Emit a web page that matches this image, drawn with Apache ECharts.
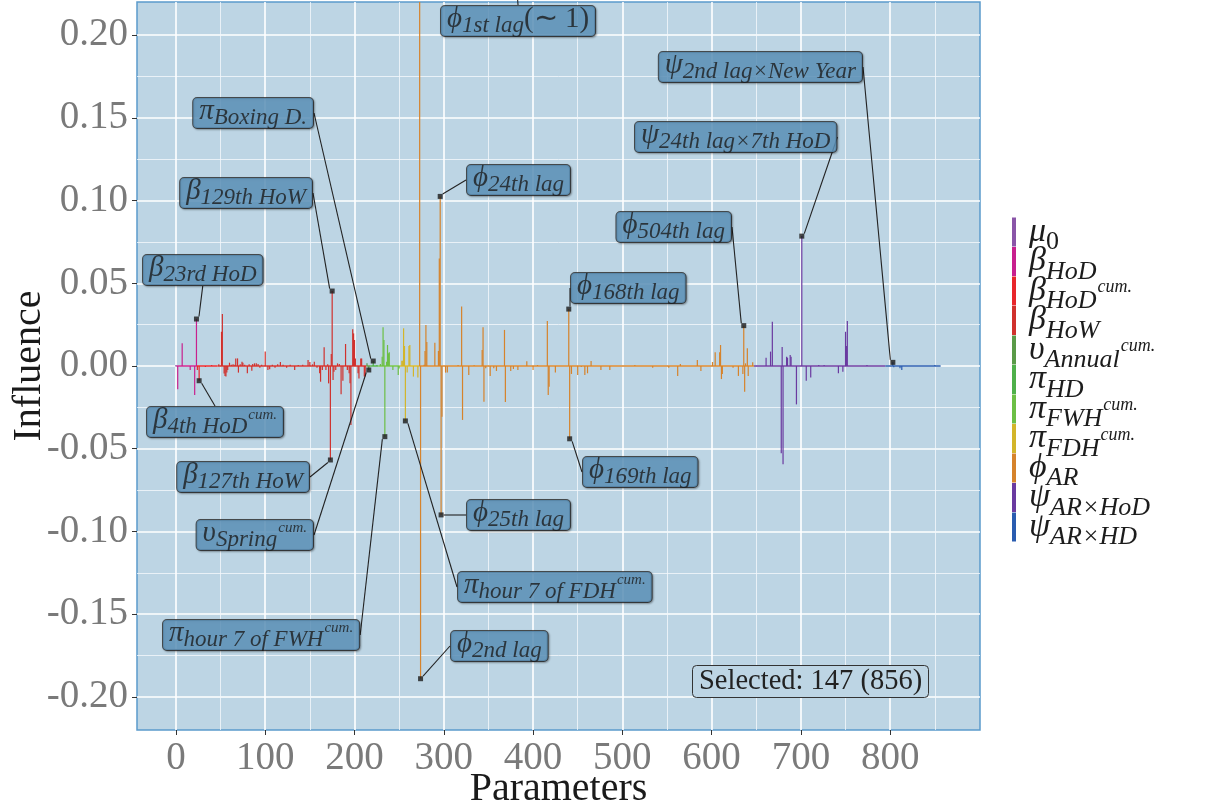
<!DOCTYPE html>
<html><head><meta charset="utf-8">
<script src="https://cdn.jsdelivr.net/npm/echarts@6/dist/echarts.min.js"></script>
<style>html,body{margin:0;padding:0;background:#fff}#c{width:1222px;height:810px}</style>
</head><body><div id="c"></div><script>
// ---------- data ----------
const xTicks = [0,100,200,300,400,500,600,700,800];
const yTicks = [-0.20,-0.15,-0.10,-0.05,0,0.05,0.10,0.15,0.20];
const groupNames = ['mu0','bHoD','bHoDcum','bHoW','uAnn','piHD','piFWH','piFDH','phiAR','psiHoD','psiHD'];
const groupRanges = [[0,0],[1,23],[24,46],[47,213],[214,217],[218,226],[227,250],[251,272],[273,647],[648,794],[795,856]];

const mu0 = [[0,0.0004]];
const bHoD = [[2,-0.0140],[7,0.0137],[16,-0.0024],[21,-0.0176],[23,0.0284]];
const bHoDcum = [[24,-0.0024],[26,-0.0089],[33,-0.0006],[40,0.0006]];
const bHoW = [[48,0.0010],[51,0.0207],[52,0.0314],[54,-0.0045],[55,-0.0060],[56,-0.0064],[57,-0.0040],[58,-0.0024],
  [60,0.0020],[62,0.0008],[64,0.0010],[66,0.0008],[67,0.0046],[69,0.0046],[70,-0.0040],[72,0.0010],[74,0.0026],
  [75,0.0020],[77,0.0008],[80,-0.0044],[82,0.0010],[85,-0.0028],[86,0.0012],[88,0.0016],[90,0.0016],[92,0.0012],
  [94,-0.0010],[96,0.0008],[100,0.0087],[103,-0.0024],[105,-0.0020],[108,0.0008],[111,-0.0010],[114,0.0010],
  [117,0.0024],[120,0.0008],[124,-0.0010],[128,0.0008],[133,-0.0024],[137,0.0006],[142,0.0008],[148,0.0036],
  [150,0.0024],[153,0.0010],[155,0.0026],[158,-0.0010],[161,-0.0044],[162,-0.0095],[164,-0.0024],[166,0.0113],
  [168,-0.0024],[170,0.0010],[171,-0.0105],[173,-0.0568],[174,0.0073],[175,0.0453],[176,-0.0085],[177,-0.0034],
  [179,-0.0024],[181,0.0016],[183,0.0012],[185,-0.0171],[187,-0.0089],[190,0.0133],[192,-0.0024],[194,-0.0044],
  [195,-0.0105],[196,-0.0356],[198,0.0222],[199,0.0197],[200,0.0157],[201,0.0046],[204,-0.0044],[205,-0.0075],
  [207,0.0046],[208,0.0046],[211,-0.0064],[212,-0.0064]];
const uAnn = [[214,0.0016],[216,-0.0024]];
const piHD = [[221,0.0030],[225,0.0005]];
const piFWH = [[229,0.0012],[231,0.0056],[232,0.0234],[233,0.0157],[234,-0.0427],[236,0.0026],[237,0.0127],
  [238,0.0077],[239,0.0083],[243,-0.0024],[249,-0.0054],[250,-0.0015]];
const piFDH = [[253,0.0032],[254,0.0032],[255,0.0228],[256,0.0121],[257,-0.0332],[259,-0.0040],[261,0.0121],
  [262,0.0127],[266,-0.0064],[271,-0.0070]];
const phiAR = [[273,1.0],[274,-0.1890],[278,0.0008],[279,0.0091],[280,0.0248],[281,0.0145],[290,0.0141],[294,0.0091],
  [295,0.0650],[296,0.1025],[297,-0.0900],[298,-0.0306],[302,-0.0040],[304,-0.0040],[316,0.0006],[320,0.0359],
  [321,-0.0326],[328,-0.0054],[334,0.0004],[343,0.0097],[344,0.0234],[345,-0.0216],[347,-0.0014],[352,-0.0060],
  [356,-0.0014],[359,-0.0030],[368,0.0218],[369,-0.0218],[375,-0.0030],[378,-0.0018],[383,-0.0024],[393,0.0028],
  [400,-0.0024],[405,0.0006],[416,0.0272],[417,-0.0175],[418,-0.0125],[425,-0.0040],[440,0.0344],[441,-0.0440],
  [443,-0.0048],[450,-0.0054],[454,-0.0006],[458,-0.0054],[461,-0.0044],[465,0.0030],[476,-0.0024],[486,-0.0024],
  [514,0.0006],[534,-0.0010],[552,-0.0010],[562,-0.0060],[565,0.0012],[584,0.0036],[588,-0.0030],[601,0.0024],
  [604,0.0083],[609,0.0083],[610,0.0127],[611,-0.0079],[612,-0.0048],[624,-0.0010],[630,-0.0060],[635,-0.0048],
  [636,0.0244],[637,-0.0155],[638,0.0016],[640,0.0107],[641,-0.0060],[646,0.0022]];
const psiHoD = [[661,0.0050],[666,0.0087],[668,0.0268],[678,-0.0528],[679,0.0115],[680,-0.0594],[684,0.0056],
  [685,0.0050],[688,0.0066],[689,0.0056],[695,-0.0232],[701,0.0785],[706,-0.0089],[711,-0.0070],[720,0.0006],
  [726,0.0006],[742,-0.0044],[747,-0.0034],[750,0.0207],[751,0.0121],[752,0.0272],[774,0.0006]];
const psiHD = [[803,0.0022],[804,-0.0008],[811,-0.0014],[813,-0.0024],[850,0.0006]];

const groupData = {mu0,bHoD,bHoDcum,bHoW,uAnn,piHD,piFWH,piFDH,phiAR,psiHoD,psiHD};

// annotations: [group, parameter index, text]
const annotations = [
 ['phiAR',273,'{s|ϕ}{b|1st lag}{n|(∼ 1)}'],
 ['psiHD',803,'{s|ψ}{b|2nd lag×New Year}'],
 ['piHD',221,'{s|π}{b|Boxing D.}'],
 ['psiHoD',701,'{s|ψ}{b|24th lag×7th HoD}'],
 ['phiAR',296,'{s|ϕ}{b|24th lag}'],
 ['bHoW',175,'{s|β}{b|129th HoW}'],
 ['phiAR',636,'{s|ϕ}{b|504th lag}'],
 ['bHoD',23,'{s|β}{b|23rd HoD}'],
 ['phiAR',440,'{s|ϕ}{b|168th lag}'],
 ['bHoDcum',26,'{s|β}{b|4th HoD}{p|cum.}'],
 ['phiAR',441,'{s|ϕ}{b|169th lag}'],
 ['bHoW',173,'{s|β}{b|127th HoW}'],
 ['phiAR',297,'{s|ϕ}{b|25th lag}'],
 ['uAnn',216,'{s|υ}{b|Spring}{p|cum.}'],
 ['piFDH',257,'{s|π}{b|hour 7 of FDH}{p|cum.}'],
 ['piFWH',234,'{s|π}{b|hour 7 of FWH}{p|cum.}'],
 ['phiAR',274,'{s|ϕ}{b|2nd lag}']
];
const legendText = {
 mu0:'{s|μ}{r|0}', bHoD:'{s|β}{b|HoD}', bHoDcum:'{s|β}{b|HoD}{p|cum.}', bHoW:'{s|β}{b|HoW}',
 uAnn:'{s|υ}{b|Annual}{p|cum.}', piHD:'{s|π}{b|HD}', piFWH:'{s|π}{b|FWH}{p|cum.}', piFDH:'{s|π}{b|FDH}{p|cum.}',
 phiAR:'{s|ϕ}{b|AR}', psiHoD:'{s|ψ}{b|AR×HoD}', psiHD:'{s|ψ}{b|AR×HD}'
};
const selectedText = 'Selected: 147 (856)';

// ---------- styles / layout ----------
const colors = ['#8a55a8','#c8208e','#e8262b','#d0312d','#5a9a48','#4fb04a','#6cbf45','#d3b52a','#d6832b','#6a3aa0','#2a5cb0'];
const labelPos = [
 [441,6,'left'],[862,52,'right'],[313,98,'right'],[635,122,'left'],[467,165,'left'],[312,178,'right'],
 [731,212,'right'],[143,255,'left'],[571,273,'left'],[147,407,'left'],[583,457,'left'],[309,462,'right'],
 [467,500,'left'],[313,520,'right'],[458,572,'left'],[163,620,'left'],[451,631,'left']
];
const F = 'Liberation Serif';
const TC = '#1c1c1c';
const labelRich = {
  s:{fontFamily:F,fontStyle:'italic',fontSize:29,lineHeight:25,color:TC},
  b:{fontFamily:F,fontStyle:'italic',fontSize:23,lineHeight:4,verticalAlign:'top',padding:[7,0,0,0],color:TC},
  p:{fontFamily:F,fontStyle:'italic',fontSize:15,lineHeight:4,verticalAlign:'top',padding:[0,0,0,1],color:TC},
  n:{fontFamily:F,fontSize:29,lineHeight:25,color:TC}
};
const legendRich = {
  s:{fontFamily:F,fontStyle:'italic',fontSize:34,lineHeight:29,color:TC,padding:[0,0,0,8]},
  b:{fontFamily:F,fontStyle:'italic',fontSize:26,lineHeight:4,verticalAlign:'top',padding:[12,0,0,0],color:TC},
  p:{fontFamily:F,fontStyle:'italic',fontSize:18,lineHeight:4,verticalAlign:'top',padding:[2,0,0,1],color:TC},
  r:{fontFamily:F,fontSize:26,lineHeight:4,verticalAlign:'top',padding:[12,0,0,0],color:TC}
};

function barSeries(name, data, color){
  return {
    type:'custom', name, data, z:3, itemStyle:{color}, encode:{x:0,y:1}, silent:true,
    renderItem(params, api){
      const cs = params.coordSys;
      const x = api.value(0), y = api.value(1);
      const a = api.coord([x,0]), b = api.coord([x,y]);
      let y0 = Math.min(a[1],b[1]), y1 = Math.max(a[1],b[1]);
      y0 = Math.max(y0, cs.y); y1 = Math.min(y1, cs.y + cs.height);
      return {type:'rect', shape:{x:a[0]-0.6, y:y0, width:1.2, height:Math.max(y1-y0,0.5)}, style:{fill:color}};
    }
  };
}
const series = [];
groupNames.forEach((g,k)=> series.push(barSeries(g, groupData[g], colors[k])));
groupNames.forEach((g,k)=>{
  const r = groupRanges[k];
  series.push({type:'line', name:g, data:[[r[0]-0.5,0],[r[1]+0.5,0]], symbol:'none', silent:true, z:2,
    lineStyle:{color:colors[k], width:1.3}, itemStyle:{color:colors[k]}});
});

const annData = annotations.map(a=>{
  const e = groupData[a[0]].find(d=>d[0]===a[1]);
  return {value:[a[1], e[1]], label:{formatter:a[2]}};
});
series.push({
  type:'scatter', name:'annot', data:annData, clip:false, z:10, silent:true,
  symbol:'rect', symbolSize:5, itemStyle:{color:'#1a1a1a'},
  label:{show:true, rich:labelRich, backgroundColor:'#6099c2', borderColor:'#2a2a2a', borderWidth:1,
    borderRadius:4, padding:[1,6,4,6], shadowColor:'rgba(0,0,0,0.35)', shadowOffsetX:1, shadowOffsetY:1, shadowBlur:2},
  labelLine:{show:true, showAbove:true, lineStyle:{color:'#222', width:1.1}},
  labelLayout(p){ const L = labelPos[p.dataIndex]; return {x:L[0], y:L[1], align:L[2], verticalAlign:'top', moveOverlap:null, hideOverlap:false}; }
});

const chart = echarts.init(document.getElementById('c'), null, {renderer:'canvas'});
chart.setOption({
  animation:false,
  grid:{left:137, top:2, right:242, bottom:80, containLabel:false, outerBoundsMode:'none', show:true,
    backgroundColor:'#bdd5e4', borderColor:'#5b9bcb', borderWidth:1.5},
  title:{text:selectedText, left:692, top:665, padding:[2,7,2,7], backgroundColor:'#bdd5e4', borderColor:'#333',
    borderWidth:1, borderRadius:4, textStyle:{fontFamily:F, fontSize:28.5, fontWeight:'normal', color:'#222'}},
  legend:{data:groupNames, orient:'vertical', left:1012, top:215, padding:0, itemWidth:4, itemHeight:29, itemGap:-11, icon:'rect',
    formatter:n=>legendText[n], textStyle:{rich:legendRich}, selectedMode:false},
  xAxis:{type:'value', min:-43.6, max:900.6, splitNumber:9, name:'Parameters', nameLocation:'middle', nameGap:39,
    nameMoveOverlap:false, nameTextStyle:{fontFamily:F, fontSize:40, color:'#1a1a1a'},
    axisLine:{show:false, onZero:false},
    axisTick:{show:true, inside:false, length:5, lineStyle:{color:'#333', width:1}, customValues:xTicks},
    axisLabel:{customValues:xTicks, fontFamily:F, fontSize:39, color:'#7a7a7a', margin:9,
      formatter:v=>String(Math.round(v))},
    splitLine:{show:true, lineStyle:{color:'#ffffff', width:1.6}},
    minorTick:{show:false, splitNumber:2},
    minorSplitLine:{show:true, lineStyle:{color:'#f4f8fb', width:0.8}}},
  yAxis:{type:'value', min:-0.22, max:0.22, splitNumber:9, name:'Influence', nameLocation:'middle', nameGap:88,
    nameMoveOverlap:false, nameRotate:90, nameTextStyle:{fontFamily:F, fontSize:40, color:'#1a1a1a'},
    axisLine:{show:false, onZero:false},
    axisTick:{show:true, inside:false, length:5, lineStyle:{color:'#333', width:1}, customValues:yTicks},
    axisLabel:{customValues:yTicks, fontFamily:F, fontSize:39, color:'#7a7a7a', margin:9,
      formatter:v=>v.toFixed(2)},
    splitLine:{show:true, lineStyle:{color:'#ffffff', width:1.6}},
    minorTick:{show:false, splitNumber:2},
    minorSplitLine:{show:true, lineStyle:{color:'#f4f8fb', width:0.8}}},
  series
});
</script></body></html>
